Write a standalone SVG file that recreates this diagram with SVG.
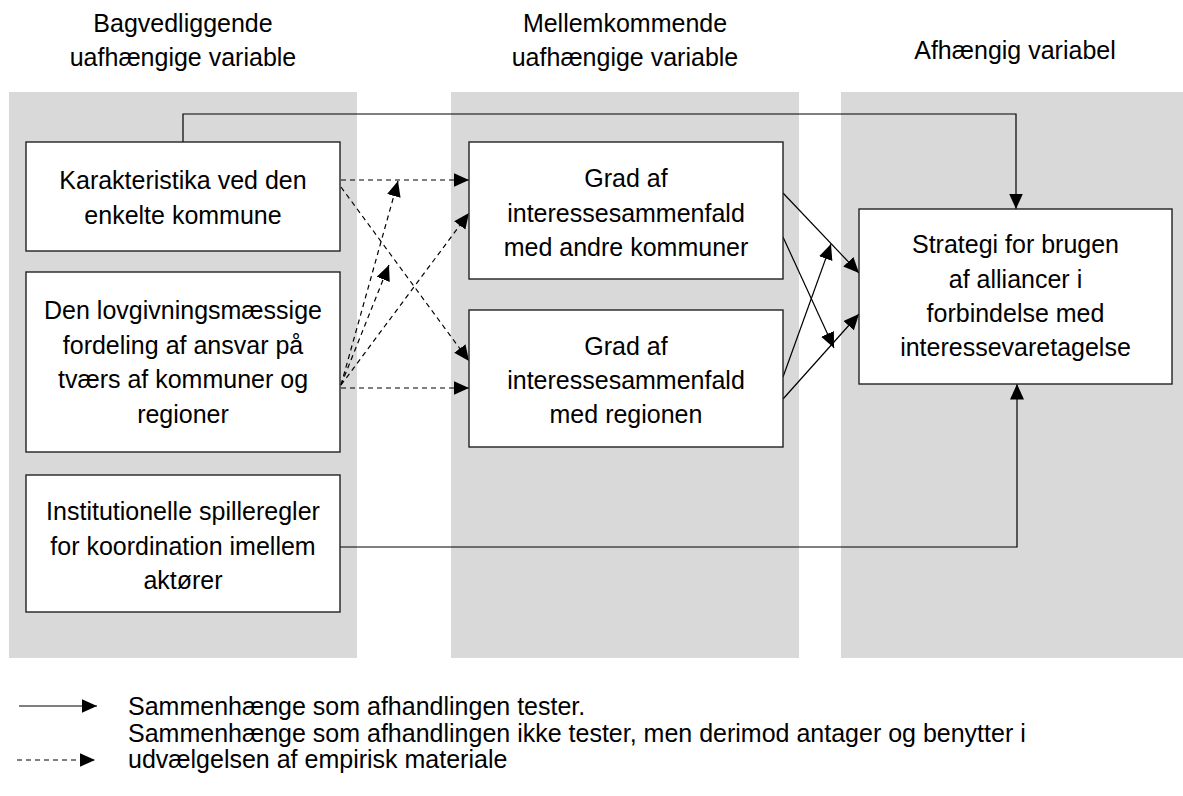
<svg xmlns="http://www.w3.org/2000/svg" width="1183" height="796" viewBox="0 0 1183 796">
<style>
.panel{fill:#d9d9d9}
.box{fill:#fff;stroke:#222;stroke-width:1.4}
.t{font-family:"Liberation Sans",Arial,sans-serif;font-size:25px;fill:#000;text-anchor:middle}
.tl{font-family:"Liberation Sans",Arial,sans-serif;font-size:25px;fill:#000}
.solid{fill:none;stroke:#000;stroke-width:1.2}
.dash{fill:none;stroke:#000;stroke-width:1.2;stroke-dasharray:5 4}
</style>
<defs>
<marker id="ah" markerUnits="userSpaceOnUse" markerWidth="17" markerHeight="15" refX="15.5" refY="7" orient="auto">
<path d="M0,0 L15.5,7 L0,14 z" fill="#000"/>
</marker>
</defs>
<rect width="1183" height="796" fill="#fff"/>
<g id="panels">
<rect class="panel" x="9" y="92" width="348" height="566"/>
<rect class="panel" x="451" y="92" width="348" height="566"/>
<rect class="panel" x="841" y="92" width="348" height="566"/>
</g>
<g id="headers">
<text class="t" x="183" y="32">Bagvedliggende</text>
<text class="t" x="183" y="66">uafhængige variable</text>
<text class="t" x="625" y="32">Mellemkommende</text>
<text class="t" x="625" y="66">uafhængige variable</text>
<text class="t" x="1015" y="59">Afhængig variabel</text>
</g>
<g id="connectors">
<path class="solid" d="M183,142 V114 H1016 V209" marker-end="url(#ah)"/>
<path class="solid" d="M340,547 H1017 V384" marker-end="url(#ah)"/>
<line class="dash" x1="341" y1="180" x2="469" y2="180" marker-end="url(#ah)"/>
<line class="dash" x1="341" y1="187" x2="469" y2="361" marker-end="url(#ah)"/>
<line class="dash" x1="341" y1="388" x2="469" y2="388" marker-end="url(#ah)"/>
<line class="dash" x1="341" y1="385" x2="398" y2="181" marker-end="url(#ah)"/>
<line class="dash" x1="341" y1="385" x2="389" y2="265" marker-end="url(#ah)"/>
<line class="dash" x1="341" y1="385" x2="469" y2="213" marker-end="url(#ah)"/>
<line class="solid" x1="783" y1="193" x2="859" y2="273" marker-end="url(#ah)"/>
<line class="solid" x1="783" y1="237" x2="834" y2="348" marker-end="url(#ah)"/>
<line class="solid" x1="783" y1="377" x2="831" y2="244" marker-end="url(#ah)"/>
<line class="solid" x1="783" y1="399" x2="859" y2="314" marker-end="url(#ah)"/>
</g>
<g id="n1">
<rect class="box" x="26" y="142" width="314" height="109"/>
<text class="t" x="183" y="189">Karakteristika ved den</text>
<text class="t" x="183" y="224">enkelte kommune</text>
</g>
<g id="n2">
<rect class="box" x="26" y="272" width="314" height="180"/>
<text class="t" x="183" y="319">Den lovgivningsmæssige</text>
<text class="t" x="183" y="354">fordeling af ansvar på</text>
<text class="t" x="183" y="388">tværs af kommuner og</text>
<text class="t" x="183" y="423">regioner</text>
</g>
<g id="n3">
<rect class="box" x="26" y="475" width="314" height="137"/>
<text class="t" x="183" y="520">Institutionelle spilleregler</text>
<text class="t" x="183" y="555">for koordination imellem</text>
<text class="t" x="183" y="589">aktører</text>
</g>
<g id="n4">
<rect class="box" x="469" y="142" width="314" height="137"/>
<text class="t" x="626" y="187">Grad af</text>
<text class="t" x="626" y="222">interessesammenfald</text>
<text class="t" x="626" y="256">med andre kommuner</text>
</g>
<g id="n5">
<rect class="box" x="469" y="310" width="314" height="137"/>
<text class="t" x="626" y="355">Grad af</text>
<text class="t" x="626" y="389">interessesammenfald</text>
<text class="t" x="626" y="423">med regionen</text>
</g>
<g id="n6">
<rect class="box" x="859" y="209" width="313" height="175"/>
<text class="t" x="1015.5" y="253">Strategi for brugen</text>
<text class="t" x="1015.5" y="288">af alliancer i</text>
<text class="t" x="1015.5" y="322">forbindelse med</text>
<text class="t" x="1015.5" y="356">interessevaretagelse</text>
</g>
<g id="legend">
<line class="solid" x1="19" y1="706" x2="97" y2="706" marker-end="url(#ah)"/>
<line class="dash" x1="17" y1="760" x2="95" y2="760" marker-end="url(#ah)"/>
<text class="tl" x="128" y="715">Sammenhænge som afhandlingen tester.</text>
<text class="tl" x="128" y="742">Sammenhænge som afhandlingen ikke tester, men derimod antager og benytter i</text>
<text class="tl" x="128" y="768">udvælgelsen af empirisk materiale</text>
</g>
</svg>
